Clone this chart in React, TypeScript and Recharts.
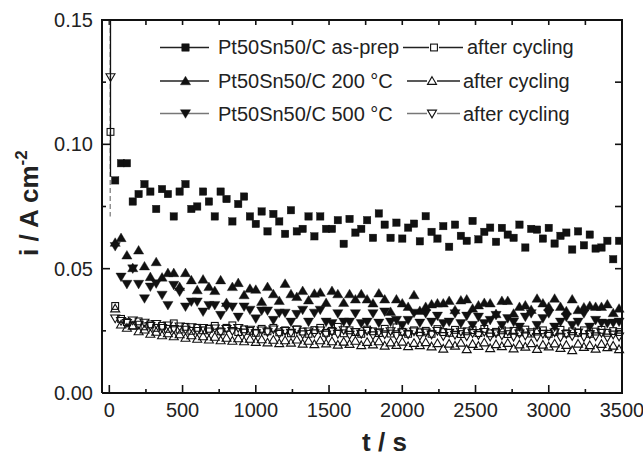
import React from 'react';
import { ScatterChart, Scatter, XAxis, YAxis } from 'recharts';

// ---------------- data ----------------
const TIMES = [
  40, 80, 120, 160, 200, 240, 280, 320, 360, 400,
  440, 480, 520, 560, 600, 640, 680, 720, 760, 800,
  840, 880, 920, 960, 1000, 1040, 1080, 1120, 1160, 1200,
  1240, 1280, 1320, 1360, 1400, 1440, 1480, 1520, 1560, 1600,
  1640, 1680, 1720, 1760, 1800, 1840, 1880, 1920, 1960, 2000,
  2040, 2080, 2120, 2160, 2200, 2240, 2280, 2320, 2360, 2400,
  2440, 2480, 2520, 2560, 2600, 2640, 2680, 2720, 2760, 2800,
  2840, 2880, 2920, 2960, 3000, 3040, 3080, 3120, 3160, 3200,
  3240, 3280, 3320, 3360, 3400, 3440, 3480,
];

const AS_PREP = [
  0.0855, 0.0924, 0.0924, 0.0770, 0.0800, 0.0840, 0.0810, 0.0740, 0.0820, 0.0800,
  0.0710, 0.0810, 0.0840, 0.0740, 0.0750, 0.0810, 0.0770, 0.0710, 0.0810, 0.0780,
  0.0690, 0.0760, 0.0790, 0.0710, 0.0680, 0.0730, 0.0650, 0.0720, 0.0690, 0.0640,
  0.0735, 0.0650, 0.0660, 0.0710, 0.0630, 0.0710, 0.0660, 0.0660, 0.0695, 0.0600,
  0.0700, 0.0645, 0.0660, 0.0695, 0.0624, 0.0722, 0.0677, 0.0624, 0.0685, 0.0621,
  0.0665, 0.0681, 0.0610, 0.0711, 0.0648, 0.0621, 0.0671, 0.0588, 0.0677, 0.0632,
  0.0612, 0.0692, 0.0618, 0.0648, 0.0665, 0.0608, 0.0664, 0.0637, 0.0624, 0.0677,
  0.0585, 0.0660, 0.0657, 0.0621, 0.0664, 0.0601, 0.0632, 0.0645, 0.0577, 0.0650,
  0.0594, 0.0637, 0.0581, 0.0585, 0.0612, 0.0538, 0.0612,
];

const C200 = [
  0.0605, 0.0624, 0.0554, 0.0503, 0.0574, 0.0510, 0.0467, 0.0527, 0.0465, 0.0483,
  0.0483, 0.0427, 0.0483, 0.0454, 0.0414, 0.0457, 0.0427, 0.0411, 0.0454, 0.0363,
  0.0427, 0.0443, 0.0394, 0.0420, 0.0416, 0.0367, 0.0427, 0.0398, 0.0371, 0.0440,
  0.0398, 0.0387, 0.0411, 0.0373, 0.0400, 0.0404, 0.0363, 0.0411, 0.0398, 0.0363,
  0.0398, 0.0377, 0.0398, 0.0377, 0.0361, 0.0401, 0.0377, 0.0327, 0.0377, 0.0361,
  0.0347, 0.0394, 0.0331, 0.0347, 0.0357, 0.0361, 0.0361, 0.0371, 0.0334, 0.0373,
  0.0377, 0.0340, 0.0353, 0.0363, 0.0361, 0.0318, 0.0371, 0.0371, 0.0320, 0.0347,
  0.0353, 0.0335, 0.0380, 0.0361, 0.0347, 0.0380, 0.0347, 0.0330, 0.0377, 0.0334,
  0.0345, 0.0351, 0.0347, 0.0347, 0.0357, 0.0322, 0.0340,
];

const C500 = [
  0.0590, 0.0467, 0.0438, 0.0500, 0.0438, 0.0380, 0.0427, 0.0440, 0.0394, 0.0353,
  0.0434, 0.0407, 0.0347, 0.0367, 0.0367, 0.0327, 0.0353, 0.0353, 0.0313, 0.0347,
  0.0347, 0.0306, 0.0347, 0.0334, 0.0299, 0.0331, 0.0331, 0.0293, 0.0322, 0.0322,
  0.0286, 0.0317, 0.0334, 0.0286, 0.0322, 0.0334, 0.0286, 0.0280, 0.0320, 0.0286,
  0.0286, 0.0320, 0.0280, 0.0286, 0.0320, 0.0282, 0.0327, 0.0286, 0.0293, 0.0273,
  0.0293, 0.0322, 0.0282, 0.0320, 0.0286, 0.0310, 0.0280, 0.0286, 0.0320, 0.0280,
  0.0310, 0.0273, 0.0306, 0.0280, 0.0293, 0.0313, 0.0273, 0.0300, 0.0286, 0.0266,
  0.0306, 0.0320, 0.0273, 0.0300, 0.0320, 0.0266, 0.0286, 0.0306, 0.0273, 0.0286,
  0.0320, 0.0266, 0.0293, 0.0282, 0.0280, 0.0282, 0.0286,
];

const AS_PREP_CYC = [
  0.0350, 0.0298, 0.0285, 0.0272, 0.0288, 0.0268, 0.0276, 0.0262, 0.0270, 0.0258,
  0.0280, 0.0255, 0.0266, 0.0250, 0.0262, 0.0252, 0.0258, 0.0270, 0.0248, 0.0262,
  0.0272, 0.0245, 0.0256, 0.0250, 0.0242, 0.0258, 0.0248, 0.0262, 0.0244, 0.0252,
  0.0240, 0.0256, 0.0247, 0.0238, 0.0253, 0.0262, 0.0242, 0.0250, 0.0266, 0.0240,
  0.0252, 0.0245, 0.0238, 0.0255, 0.0248, 0.0241, 0.0258, 0.0239, 0.0264, 0.0246,
  0.0238, 0.0252, 0.0244, 0.0250, 0.0238, 0.0257, 0.0245, 0.0242, 0.0254, 0.0237,
  0.0248, 0.0253, 0.0241, 0.0258, 0.0240, 0.0246, 0.0252, 0.0237, 0.0250, 0.0244,
  0.0255, 0.0239, 0.0247, 0.0252, 0.0238, 0.0246, 0.0254, 0.0240, 0.0248, 0.0242,
  0.0252, 0.0238, 0.0247, 0.0254, 0.0242, 0.0249, 0.0245,
];

const C200_CYC = [
  0.0340, 0.0275, 0.0262, 0.0270, 0.0248, 0.0255, 0.0238, 0.0246, 0.0232, 0.0240,
  0.0228, 0.0236, 0.0222, 0.0232, 0.0218, 0.0228, 0.0215, 0.0226, 0.0212, 0.0222,
  0.0210, 0.0220, 0.0208, 0.0218, 0.0205, 0.0216, 0.0203, 0.0214, 0.0200, 0.0212,
  0.0202, 0.0215, 0.0198, 0.0210, 0.0196, 0.0212, 0.0199, 0.0208, 0.0194, 0.0206,
  0.0197, 0.0210, 0.0192, 0.0205, 0.0195, 0.0208, 0.0190, 0.0203, 0.0193, 0.0206,
  0.0188, 0.0201, 0.0192, 0.0204, 0.0187, 0.0200, 0.0178, 0.0198, 0.0190, 0.0202,
  0.0176, 0.0197, 0.0189, 0.0203, 0.0180, 0.0196, 0.0188, 0.0201, 0.0179, 0.0195,
  0.0186, 0.0200, 0.0177, 0.0194, 0.0187, 0.0199, 0.0181, 0.0193, 0.0172, 0.0198,
  0.0185, 0.0192, 0.0178, 0.0197, 0.0184, 0.0190, 0.0176,
];

const C500_CYC = [
  0.0300, 0.0290, 0.0282, 0.0292, 0.0275, 0.0283, 0.0270, 0.0278, 0.0262, 0.0272,
  0.0258, 0.0268, 0.0255, 0.0265, 0.0250, 0.0262, 0.0248, 0.0260, 0.0245, 0.0258,
  0.0250, 0.0262, 0.0243, 0.0255, 0.0240, 0.0252, 0.0245, 0.0256, 0.0238, 0.0250,
  0.0242, 0.0255, 0.0236, 0.0248, 0.0240, 0.0252, 0.0235, 0.0247, 0.0238, 0.0253,
  0.0234, 0.0246, 0.0238, 0.0250, 0.0232, 0.0245, 0.0236, 0.0249, 0.0230, 0.0244,
  0.0236, 0.0248, 0.0230, 0.0243, 0.0235, 0.0250, 0.0229, 0.0242, 0.0234, 0.0247,
  0.0228, 0.0241, 0.0233, 0.0246, 0.0227, 0.0240, 0.0232, 0.0248, 0.0226, 0.0239,
  0.0231, 0.0245, 0.0225, 0.0238, 0.0230, 0.0244, 0.0224, 0.0237, 0.0229, 0.0243,
  0.0225, 0.0236, 0.0228, 0.0242, 0.0223, 0.0235, 0.0227,
];

// first recorded points right after the potential step
const START_T = 8;
const AS_PREP_CYC_START = 0.105;
const C500_CYC_START = 0.127;
const SPIKE_SOLID = [0.15, 0.087];
const SPIKE_DASHED = [0.15, 0.071];

const X_DOMAIN = [-50, 3500];
const Y_DOMAIN = [0, 0.15];
const X_TICKS = [0, 250, 500, 750, 1000, 1250, 1500, 1750, 2000, 2250, 2500, 2750, 3000, 3250, 3500];
const Y_TICKS = [0, 0.025, 0.05, 0.075, 0.1, 0.125, 0.15];

const SERIES_LABELS = ['Pt50Sn50/C as-prep', 'Pt50Sn50/C 200 °C', 'Pt50Sn50/C 500 °C'];
const CYCLED_LABEL = 'after cycling';

// ---------------- styling / layout ----------------
const FONT = '"Liberation Sans", Arial, Helvetica, sans-serif';
const INK = '#111111';
const W = 643;
const H = 457;
const MARGIN = { top: 20, right: 21, bottom: 24, left: 0 };
const X_AXIS_H = 40;
const Y_AXIS_W = 102;
const PLOT_L = MARGIN.left + Y_AXIS_W;
const PLOT_T = MARGIN.top;
const PLOT_R = W - MARGIN.right;
const PLOT_B = H - MARGIN.bottom - X_AXIS_H;

type Kind = 'square' | 'up' | 'down';

function marker(kind: Kind, filled: boolean, cx: number, cy: number, key?: string) {
  const fill = filled ? INK : 'none';
  const sw = filled ? 0.4 : 1.1;
  if (kind === 'square') {
    const s = filled ? 3.7 : 3.4;
    return <rect key={key} x={cx - s} y={cy - s} width={2 * s} height={2 * s} fill={fill} stroke={INK} strokeWidth={sw} />;
  }
  const hw = filled ? 5.1 : 4.5;
  const up = filled ? 4.8 : 4.3;
  const dn = filled ? 3.8 : 3.4;
  if (kind === 'up') {
    return (
      <polygon key={key} points={`${cx},${cy - up} ${cx + hw},${cy + dn} ${cx - hw},${cy + dn}`}
        fill={fill} stroke={INK} strokeWidth={sw} strokeLinejoin="miter" />
    );
  }
  return (
    <polygon key={key} points={`${cx - hw},${cy - dn} ${cx + hw},${cy - dn} ${cx},${cy + up}`}
      fill={fill} stroke={INK} strokeWidth={sw} strokeLinejoin="miter" />
  );
}

const shapeOf = (kind: Kind, filled: boolean) => (p: any) => {
  if (p == null || p.cx == null || p.cy == null) return <g />;
  return marker(kind, filled, p.cx, p.cy);
};

const noShape = () => <g />;

// inward tick marks of the mirrored top / right axes, placed through the chart scales
const topTickShape = (p: any) =>
  p == null || p.cx == null ? <g /> : <line x1={p.cx} x2={p.cx} y1={p.cy} y2={p.cy + 5} stroke={INK} strokeWidth={1.6} />;
const rightTickShape = (p: any) =>
  p == null || p.cx == null ? <g /> : <line x1={p.cx} x2={p.cx - 7} y1={p.cy} y2={p.cy} stroke={INK} strokeWidth={1.6} />;

const toPoints = (vals: number[]) => TIMES.map((t, i) => ({ t, v: vals[i] }));

const isMajorX = (v: number) => v % 500 === 0;
const isMajorY = (v: number) => Math.abs(v * 20 - Math.round(v * 20)) < 1e-6;

const BottomTick = (props: any) => {
  const { x, y, payload } = props;
  const v = payload.value as number;
  const major = isMajorX(v);
  return (
    <g>
      <line x1={x} x2={x} y1={y} y2={y - (major ? 8 : 4)} stroke={INK} strokeWidth={1.6} />
      {major && (
        <text x={x} y={y + 24} textAnchor="middle" fontSize={20} fontFamily={FONT} fill="#222">
          {String(v)}
        </text>
      )}
    </g>
  );
};

const LeftTick = (props: any) => {
  const { x, y, payload } = props;
  const v = payload.value as number;
  const major = isMajorY(v);
  return (
    <g>
      <line x1={x} x2={x + (major ? 8 : 4)} y1={y} y2={y} stroke={INK} strokeWidth={1.6} />
      {major && (
        <text x={x - 9} y={y + 7} textAnchor="end" fontSize={20} fontFamily={FONT} fill="#222">
          {v.toFixed(2)}
        </text>
      )}
    </g>
  );
};

// legend layout (row marker centre y, text baseline, second-column geometry)
const LEGEND_ROWS = [
  { kind: 'square' as Kind, cy: 47.5, base: 54, lineColor: '#222', cx0: 403, cx1: 463, cm: 434, ct: 467 },
  { kind: 'up' as Kind, cy: 81, base: 88, lineColor: '#222', cx0: 407, cx1: 460, cm: 432, ct: 463 },
  { kind: 'down' as Kind, cy: 113.5, base: 121, lineColor: '#777', cx0: 407, cx1: 460, cm: 432, ct: 463 },
];

export default function App() {
  const axisLine = { stroke: INK, strokeWidth: 2 };
  const frame = [
    { t: X_DOMAIN[0], v: Y_DOMAIN[1] },
    { t: X_DOMAIN[1], v: Y_DOMAIN[1] },
    { t: X_DOMAIN[1], v: Y_DOMAIN[0] },
  ];
  return (
    <div style={{ position: 'absolute', left: 0, top: 0, width: W, height: H, background: '#fff' }}>
      <ScatterChart width={W} height={H} margin={MARGIN}>
        <XAxis xAxisId="b" type="number" dataKey="t" domain={X_DOMAIN}
          ticks={X_TICKS} interval={0} tickSize={0} tickMargin={0} tickLine={false}
          axisLine={axisLine} tick={<BottomTick />} height={X_AXIS_H} orientation="bottom" />
        <YAxis yAxisId="l" type="number" dataKey="v" domain={Y_DOMAIN}
          ticks={Y_TICKS} interval={0} tickSize={0} tickMargin={0} tickLine={false}
          axisLine={axisLine} tick={<LeftTick />} width={Y_AXIS_W} orientation="left" />

        {/* top and right frame lines with inward ticks */}
        <Scatter xAxisId="b" yAxisId="l" isAnimationActive={false} data={frame}
          line={{ stroke: INK, strokeWidth: 2 }} shape={noShape} />
        <Scatter xAxisId="b" yAxisId="l" isAnimationActive={false}
          data={X_TICKS.map((t) => ({ t, v: Y_DOMAIN[1] }))} shape={topTickShape} />
        <Scatter xAxisId="b" yAxisId="l" isAnimationActive={false}
          data={Y_TICKS.map((v) => ({ t: X_DOMAIN[1], v }))} shape={rightTickShape} />

        <Scatter xAxisId="b" yAxisId="l" isAnimationActive={false}
          data={[{ t: START_T - 2, v: SPIKE_DASHED[0] }, { t: START_T - 2, v: SPIKE_DASHED[1] }]}
          line={{ stroke: '#777', strokeWidth: 1.2, strokeDasharray: '5 3' }} shape={noShape} />
        <Scatter xAxisId="b" yAxisId="l" isAnimationActive={false}
          data={[{ t: START_T, v: SPIKE_SOLID[0] }, { t: START_T, v: SPIKE_SOLID[1] }]}
          line={{ stroke: INK, strokeWidth: 1.3 }} shape={noShape} />

        <Scatter xAxisId="b" yAxisId="l" isAnimationActive={false} data={toPoints(AS_PREP)} shape={shapeOf('square', true)} />
        <Scatter xAxisId="b" yAxisId="l" isAnimationActive={false} data={toPoints(C200)} shape={shapeOf('up', true)} />
        <Scatter xAxisId="b" yAxisId="l" isAnimationActive={false} data={toPoints(C500)} shape={shapeOf('down', true)} />
        <Scatter xAxisId="b" yAxisId="l" isAnimationActive={false}
          data={[{ t: START_T, v: AS_PREP_CYC_START }, ...toPoints(AS_PREP_CYC)]} shape={shapeOf('square', false)} />
        <Scatter xAxisId="b" yAxisId="l" isAnimationActive={false} data={toPoints(C200_CYC)} shape={shapeOf('up', false)} />
        <Scatter xAxisId="b" yAxisId="l" isAnimationActive={false}
          data={[{ t: START_T, v: C500_CYC_START }, ...toPoints(C500_CYC)]} shape={shapeOf('down', false)} />
      </ScatterChart>

      {/* plot-box border on the top and right sides */}
      <div style={{
        position: 'absolute', left: PLOT_L - 1, top: PLOT_T - 1,
        width: PLOT_R - PLOT_L + 2, height: PLOT_B - PLOT_T + 2, boxSizing: 'border-box',
        borderTop: `2px solid ${INK}`, borderRight: `2px solid ${INK}`, pointerEvents: 'none',
      }} />

      <svg width={W} height={H} style={{ position: 'absolute', left: 0, top: 0, pointerEvents: 'none' }}>
        {/* legend */}
        {LEGEND_ROWS.map((r, i) => (
          <g key={i}>
            <line x1={160} x2={209} y1={r.cy} y2={r.cy} stroke={r.lineColor} strokeWidth={1.4} />
            {marker(r.kind, true, 185.5, r.cy)}
            <text x={218} y={r.base} fontSize={20} fontFamily={FONT} fill="#222">{SERIES_LABELS[i]}</text>
            <line x1={r.cx0} x2={r.cx1} y1={r.cy} y2={r.cy} stroke={r.lineColor} strokeWidth={1.4} />
            <rect x={r.cm - 5} y={r.cy - 5} width={10} height={10} fill="#fff" />
            {marker(r.kind, false, r.cm, r.cy)}
            <text x={r.ct} y={r.base} fontSize={20} fontFamily={FONT} fill="#222">{CYCLED_LABEL}</text>
          </g>
        ))}
        {/* axis titles */}
        <text x={384.5} y={451} textAnchor="middle" fontSize={26} fontWeight="bold" fontFamily={FONT} fill="#222">
          t / s
        </text>
        <text transform="translate(38,256) rotate(-90)" textAnchor="start" fontSize={26} fontWeight="bold" fontFamily={FONT} fill="#222">
          i / A cm<tspan dy={-11} fontSize={17}>-2</tspan>
        </text>
      </svg>
    </div>
  );
}
